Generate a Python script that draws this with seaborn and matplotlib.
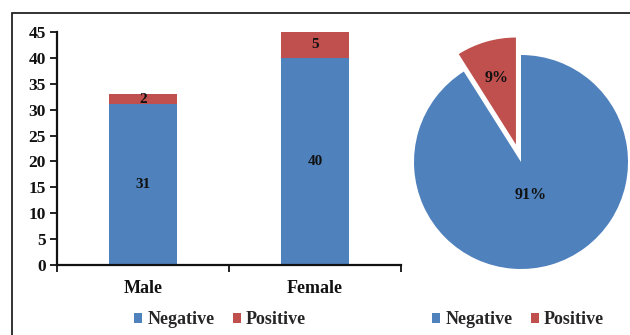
import matplotlib
matplotlib.use("Agg")
import matplotlib.pyplot as plt
import seaborn as sns
import pandas as pd
from matplotlib.patches import Patch, Rectangle
import numpy as np

# Test results by sex
sexes = ["Male", "Female"]
negative = [31, 40]
positive = [2, 5]
status = ["Negative", "Positive"]
colors = ["#4F81BD", "#C0504D"]
y_ticks = [0, 5, 10, 15, 20, 25, 30, 35, 40, 45]

sns.set_theme(style="white")
plt.rcParams["font.family"] = ["Liberation Serif", "DejaVu Serif"]
plt.rcParams["font.weight"] = "bold"

fig = plt.figure(figsize=(6.3, 3.35), dpi=100)

# outer frame
fig.patches.append(Rectangle((12 / 630, -0.2), 1.2, 0.2 + 1 - 13 / 335,
                             transform=fig.transFigure, fill=False,
                             edgecolor="#222222", linewidth=1.3))

# ---- stacked bar chart ----
ax = fig.add_axes([57 / 630, 1 - 265 / 335, 344 / 630, 233 / 335])
df = pd.DataFrame({"sex": sexes, "negative": negative, "positive": positive})
df["total"] = df["negative"] + df["positive"]
sns.barplot(data=df, x="sex", y="total", color=colors[1], width=0.4,
            saturation=1, linewidth=0, ax=ax)
sns.barplot(data=df, x="sex", y="negative", color=colors[0], width=0.4,
            saturation=1, linewidth=0, ax=ax)
for i, (n, p) in enumerate(zip(negative, positive)):
    ax.text(i, n / 2, str(n), ha="center", va="center", fontsize=11,
            fontweight="bold", color="#111111")
    ax.text(i, n + p / 2, str(p), ha="center", va="center", fontsize=11,
            fontweight="bold", color="#111111")

ax.set_xlim(-0.5, 1.5)
ax.set_ylim(0, 45)
ax.set_yticks(y_ticks)
ax.set_xlabel("")
ax.set_ylabel("")
for s in ["top", "right"]:
    ax.spines[s].set_visible(False)
for s in ["left", "bottom"]:
    ax.spines[s].set_color("#111111")
    ax.spines[s].set_linewidth(1.6)
ax.tick_params(axis="y", which="major", direction="out", length=5, width=1.3,
               pad=3, labelsize=12.5, color="#111111", left=True)
ax.tick_params(axis="x", which="major", length=0, pad=11, labelsize=13)
ax.set_xticks([-0.5, 0.5, 1.5], minor=True)
ax.tick_params(axis="x", which="minor", direction="out", length=5, width=1.3,
               color="#111111", bottom=True)
for lab in ax.get_xticklabels() + ax.get_yticklabels():
    lab.set_fontweight("bold")
    lab.set_color("#111111")

handles = [Patch(facecolor=c, edgecolor="none", label=l) for c, l in zip(colors, status)]
legend_kw = dict(loc="center", ncol=2, frameon=False, handlelength=0.45,
                 handleheight=0.45, handletextpad=0.3, columnspacing=1.0,
                 prop={"weight": "bold", "size": 13})
fig.legend(handles=handles, bbox_to_anchor=(220 / 630, 1 - 320 / 335), **legend_kw)

# ---- pie chart of overall share ----
pax = fig.add_axes([(521 - 130) / 630, (335 - 162 - 130) / 335, 260 / 630, 260 / 335])
totals = [sum(negative), sum(positive)]
wedges, texts, autotexts = pax.pie(
    totals, colors=colors, startangle=90, counterclock=False,
    explode=[0, 0.17], autopct="%1.0f%%",
    wedgeprops={"edgecolor": "none"},
    textprops={"fontsize": 11.5, "fontweight": "bold", "color": "#111111"})
label_dist = [0.32, 0.65]
for w, t, d in zip(wedges, autotexts, label_dist):
    ang = np.deg2rad((w.theta1 + w.theta2) / 2)
    cx, cy = w.center
    t.set_position((cx + d * np.cos(ang), cy + d * np.sin(ang)))
pax.set_xlim(-1.215, 1.215)
pax.set_ylim(-1.215, 1.215)
pax.set_aspect("equal")
pax.axis("off")

fig.legend(handles=handles, bbox_to_anchor=(518 / 630, 1 - 320 / 335), **legend_kw)

fig.savefig("out.png", dpi=100)
